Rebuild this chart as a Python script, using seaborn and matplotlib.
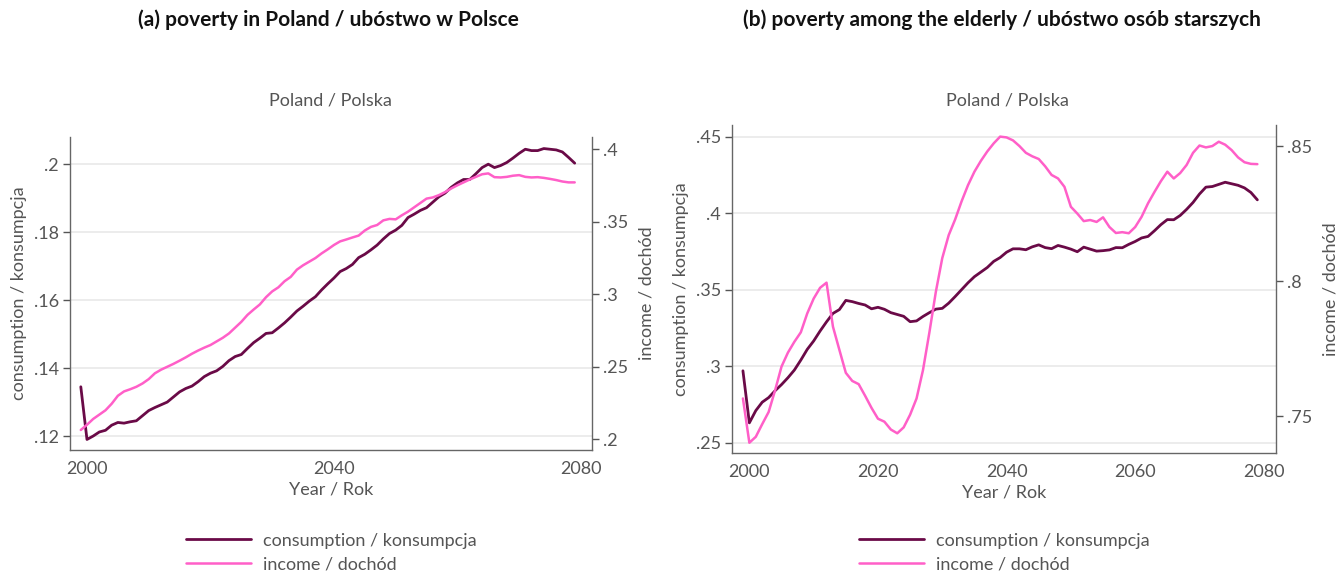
import numpy as np
import pandas as pd
import matplotlib
matplotlib.use("Agg")
import matplotlib.pyplot as plt
from matplotlib.lines import Line2D
from matplotlib.ticker import FuncFormatter
import seaborn as sns

years = list(range(1999, 2080))

# (a) poverty in Poland
pl_consumption = [
    .1345, .1190, .1200, .1212, .1217, .1232, .1240, .1238, .1242, .1245,
    .1260, .1275, .1284, .1292, .1300, .1315, .1330, .1340, .1347, .1360,
    .1375, .1385, .1392, .1405, .1422, .1434, .1440, .1458, .1475, .1488,
    .1502, .1504, .1518, .1533, .1550, .1568, .1582, .1597, .1610, .1630,
    .1648, .1665, .1684, .1693, .1705, .1725, .1735, .1748, .1762, .1780,
    .1796, .1806, .1820, .1843, .1853, .1864, .1872, .1888, .1904, .1915,
    .1932, .1945, .1955, .1955, .1972, .1990, .2000, .1990, .1996, .2005,
    .2018, .2032, .2044, .2040, .2040, .2046, .2044, .2042, .2036, .2020,
    .2003,
]
pl_income = [
    .2064, .2100, .2140, .2170, .2200, .2245, .2300, .2330, .2345, .2362,
    .2385, .2415, .2455, .2480, .2500, .2520, .2542, .2565, .2590, .2612,
    .2632, .2650, .2675, .2700, .2730, .2770, .2810, .2858, .2895, .2930,
    .2980, .3020, .3048, .3090, .3120, .3170, .3200, .3225, .3250, .3282,
    .3310, .3340, .3365, .3378, .3392, .3405, .3440, .3465, .3478, .3510,
    .3520, .3517, .3545, .3570, .3600, .3630, .3660, .3668, .3684, .3705,
    .3730, .3752, .3772, .3792, .3810, .3828, .3834, .3808, .3806, .3810,
    .3818, .3822, .3810, .3806, .3808, .3803, .3796, .3788, .3778, .3772,
    .3772,
]

# (b) poverty among the elderly
old_consumption = [
    .2970, .2630, .2710, .2765, .2795, .2840, .2880, .2925, .2975, .3040,
    .3110, .3165, .3230, .3290, .3345, .3370, .3430, .3422, .3410, .3400,
    .3375, .3385, .3372, .3350, .3338, .3326, .3291, .3296, .3325, .3350,
    .3373, .3378, .3412, .3455, .3500, .3545, .3585, .3615, .3645, .3685,
    .3710, .3745, .3767, .3767, .3761, .3780, .3793, .3775, .3768, .3789,
    .3778, .3765, .3748, .3778, .3765, .3752, .3755, .3760, .3775, .3774,
    .3796, .3815, .3838, .3848, .3885, .3925, .3958, .3957, .3985, .4025,
    .4070, .4125, .4170, .4174, .4188, .4202, .4192, .4182, .4165, .4135,
    .4087,
]
old_income = [
    .7565, .7401, .7423, .7470, .7515, .7595, .7683, .7735, .7775, .7810,
    .7880, .7935, .7975, .7994, .7831, .7745, .7660, .7630, .7618, .7575,
    .7530, .7490, .7479, .7450, .7436, .7458, .7505, .7565, .7670, .7810,
    .7960, .8085, .8170, .8228, .8295, .8355, .8405, .8445, .8480, .8510,
    .8535, .8532, .8521, .8500, .8475, .8462, .8452, .8425, .8393, .8380,
    .8349, .8275, .8250, .8222, .8226, .8219, .8236, .8200, .8178, .8181,
    .8177, .8200, .8238, .8288, .8330, .8370, .8405, .8380, .8400, .8430,
    .8475, .8502, .8495, .8500, .8516, .8505, .8485, .8458, .8440, .8434,
    .8433,
]

titles = ["(a) poverty in Poland / ubóstwo w Polsce",
          "(b) poverty among the elderly / ubóstwo osób starszych"]
subtitle = "Poland / Polska"
xlabel = "Year / Rok"
ylabel_left = "consumption / konsumpcja"
ylabel_right = "income / dochód"
series_labels = ["consumption / konsumpcja", "income / dochód"]

xticks_a = [2000, 2040, 2080]
xticks_b = [2000, 2020, 2040, 2060, 2080]
yticks_a_left = [.12, .14, .16, .18, .2]
yticks_a_right = [.2, .25, .3, .35, .4]
yticks_b_left = [.25, .3, .35, .4, .45]
yticks_b_right = [.75, .8, .85]

C_CONS = "#6a0a47"
C_INC = "#ff5fc8"
GREY = "#555555"
SPINE = "#666666"
FS = 13

sns.set_theme(style="white")
plt.rcParams["font.family"] = ["Lato", "DejaVu Sans"]
plt.rcParams["axes.unicode_minus"] = False

fig = plt.figure(figsize=(13.36, 5.76), dpi=100)

def nolead(v, _pos=None):
    s = f"{v:g}"
    return s[1:] if s.startswith("0.") else s

def px(x, y):
    return x / 1336, 1 - y / 576

def build(rect, cons, inc, xticks, xlim, yl, yl_lim, yr, yr_lim):
    ax = fig.add_axes(rect)
    df = pd.DataFrame({"year": years, "cons": cons, "inc": inc})
    sns.lineplot(data=df, x="year", y="cons", ax=ax, color=C_CONS, lw=2.0)
    ax2 = ax.twinx()
    sns.lineplot(data=df, x="year", y="inc", ax=ax2, color=C_INC, lw=1.8)
    ax.set_xlim(*xlim)
    ax.set_ylim(*yl_lim)
    ax2.set_ylim(*yr_lim)
    ax.set_xticks(xticks)
    ax.set_yticks(yl)
    ax2.set_yticks(yr)
    ax.yaxis.set_major_formatter(FuncFormatter(nolead))
    ax2.yaxis.set_major_formatter(FuncFormatter(nolead))
    ax.grid(axis="y", color="#ebebeb", lw=1.3)
    ax.set_axisbelow(True)
    for a in (ax, ax2):
        a.spines["top"].set_visible(False)
        for s in ("left", "right", "bottom"):
            a.spines[s].set_color(SPINE)
            a.spines[s].set_linewidth(1.0)
        a.tick_params(axis="both", colors=GREY, labelsize=FS, length=5,
                      width=1.0, direction="out", pad=3)
    ax2.spines["left"].set_visible(False)
    ax2.spines["bottom"].set_visible(False)
    ax.spines["right"].set_visible(False)
    ax.set_xlabel(xlabel, fontsize=FS, color=GREY, labelpad=3)
    ax.set_ylabel(ylabel_left, fontsize=FS, color=GREY, labelpad=5)
    ax2.set_ylabel(ylabel_right, fontsize=FS, color=GREY, labelpad=7)
    ax2.set_xlabel("")
    return ax, ax2

build([70 / 1336, 1 - 450 / 576, 522 / 1336, 313 / 576],
      pl_consumption, pl_income, xticks_a, (1997.25, 2081.8),
      yticks_a_left, (0.1159, 0.208), yticks_a_right, (0.1926, 0.4085))
build([732 / 1336, 1 - 453 / 576, 544 / 1336, 328 / 576],
      old_consumption, old_income, xticks_b, (1997.3, 2081.9),
      yticks_b_left, (0.2433, 0.4576), yticks_b_right, (0.7363, 0.8578))

# titles and subtitles
for cx, t in ((328, titles[0]), (1002, titles[1])):
    fig.text(*px(cx, 20), t, ha="center", va="center", fontsize=15,
             fontweight="bold", color="#111111")
for cx in (330, 1007):
    fig.text(*px(cx, 101), subtitle, ha="center", va="center",
             fontsize=FS, color=GREY)

# legends below each panel
for lx in (185, 858):
    handles = [Line2D([0], [0], color=C_CONS, lw=2.0),
               Line2D([0], [0], color=C_INC, lw=1.8)]
    fig.legend(handles, series_labels, loc="upper left",
               bbox_to_anchor=px(lx - 3, 529), frameon=False, fontsize=FS,
               labelcolor=GREY, handlelength=3.6, handletextpad=0.7,
               labelspacing=0.42, borderaxespad=0, borderpad=0.2)

fig.savefig("out.png", dpi=100)
